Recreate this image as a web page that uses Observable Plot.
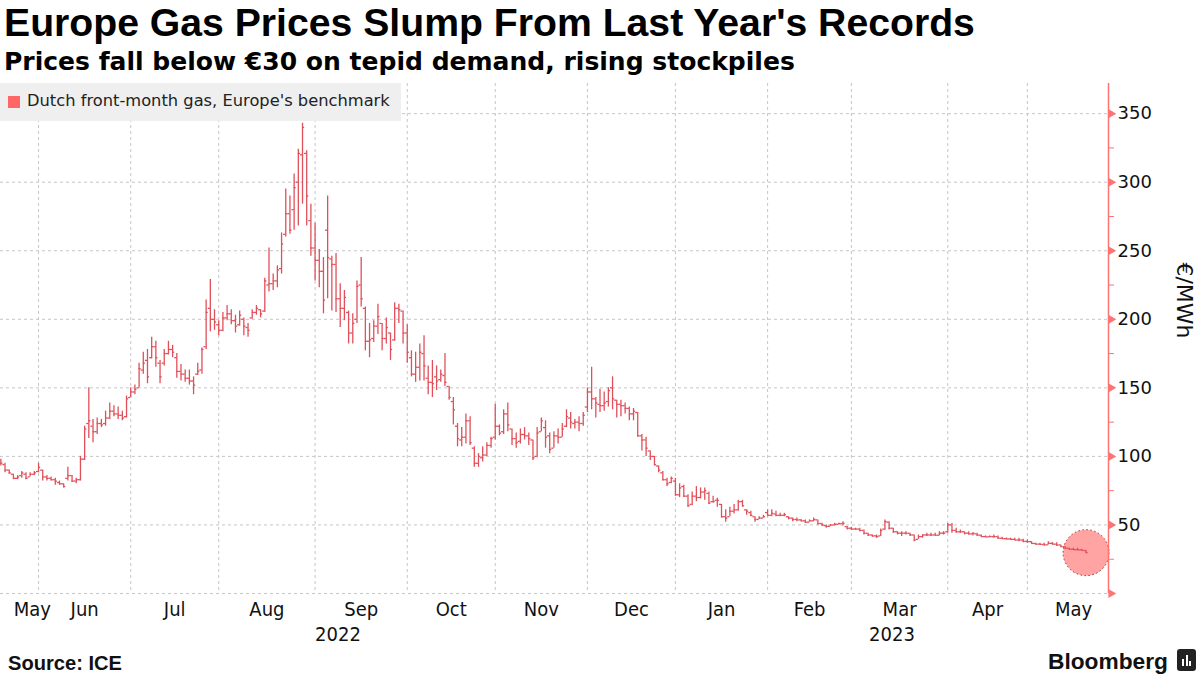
<!DOCTYPE html>
<html>
<head>
<meta charset="utf-8">
<script src="https://cdn.jsdelivr.net/npm/d3@7"></script>
<script src="https://cdn.jsdelivr.net/npm/@observablehq/plot@0.6"></script>
<style>
  html, body { margin: 0; padding: 0; background: #fff; }
  #wrap { position: relative; width: 1200px; height: 675px; overflow: hidden; background: #fff; }
  #chart { position: absolute; left: 0; top: 0; }
  .t { position: absolute; white-space: nowrap; line-height: 1; color: #000; }
  #title { left: 4px; top: 3px; font-family: "Liberation Sans", Arial, sans-serif; font-weight: bold; font-size: 39px; }
  #subtitle { left: 4px; top: 49px; font-family: "DejaVu Sans", sans-serif; font-weight: bold; font-size: 21px; }
  #legend { position: absolute; left: 0; top: 83px; width: 401px; height: 38px; background: #efefef; }
  #legend .sw { position: absolute; left: 8px; top: 13px; width: 12px; height: 12px; background: #ff6666; }
  #legend .lb { position: absolute; left: 27px; top: 10px; font-family: "DejaVu Sans", sans-serif; font-size: 16.3px; color: #222; white-space: nowrap; line-height: 1; }
  #source { left: 8px; top: 653px; font-family: "Liberation Sans", Arial, sans-serif; font-weight: bold; font-size: 19px; color: #111; }
  #brand { left: 1048px; top: 650px; font-family: "Liberation Sans", Arial, sans-serif; font-weight: bold; font-size: 22px; color: #111; }
  #logo { position: absolute; left: 1177px; top: 649px; width: 19px; height: 22px; background: #222; border-radius: 3px; }
  #logo i { position: absolute; bottom: 5px; width: 2px; background: #fff; }
</style>
</head>
<body>
<div id="wrap">
  <div id="chart"></div>
  <div id="legend"><div class="sw"></div><div class="lb" id="legendText"></div></div>
  <div class="t" id="title"></div>
  <div class="t" id="subtitle"></div>
  <div class="t" id="source"></div>
  <div class="t" id="brand"></div>
  <div id="logo"><i style="left:5px;height:7px"></i><i style="left:8.5px;height:11px"></i><i style="left:12px;height:5px"></i></div>
</div>
<script>
// ---------------- data (Dutch TTF front-month, €/MWh, daily OHLC) ----------------
const titleText = "Europe Gas Prices Slump From Last Year's Records";
const subtitleText = "Prices fall below €30 on tepid demand, rising stockpiles";
const seriesName = "Dutch front-month gas, Europe's benchmark";
const sourceText = "Source: ICE";
const unitLabel = "€/MWh";

const firstTradingDay = "2022-05-19";
const holidays = ["2022-12-26", "2023-04-07"];

const opens = [
  96,94,90,87,84,86,87,85,87,
  89,90,85,84,83,81,80,84,86,82,83,98,124,122,118,124,124,128,133,131,130,129,
  143,147,150,163,170,172,180,168,168,175,178,172,162,160,157,155,160,163,180,208,200,
  196,192,201,204,199,196,200,194,201,205,207,206,225,226,228,237,262,277,280,300,320,321,272,
  252,243,235,265,244,240,215,208,205,190,200,225,208,184,186,195,197,186,190,185,208,206,
  190,172,160,165,175,157,154,158,156,159,151,140,122,112,114,126,106,95,99,101,108,
  114,122,118,131,120,113,111,116,115,112,100,118,121,115,106,115,114,122,128,124,125,124,
  136,147,142,138,137,140,150,141,138,137,135,131,132,115,112,104,100,93,88,83,81,
  82,72,78,71,65,71,70,74,73,67,68,65,56,56,60,61,67,61,59,56,54,55,
  59,57,58,57,57,56,55,54,53.7,53,52,53,53.7,51,49.5,49,50,50.5,51,48.8,
  47.6,47,47,46,43.9,42.7,42,42,47,52,47.6,45,44,44,43.9,42.7,39.5,41.5,42.7,42.7,42.7,42.5,44,
  45,50,46,45,45,44,43.5,43.5,42.5,41.5,41.3,41.5,41.5,40.3,40,39.8,39.5,39,39,
  38,37.8,36.5,36,35.8,35.5,36.6,36,35.4,34.2,33,32.3,32,31.8,31.3
];
const highs = [
  98,95,90,87,86,89,88,88,89,
  95,90,86,85,84,82,80,92,86,84,100,122,150,127,128,127,133,139,137,136,133,144,
  150,152,168,176,178,187,184,170,178,184,181,175,167,163,163,158,168,179,214,229,207,
  199,205,210,207,203,206,201,197,207,210,207,230,252,233,239,263,295,290,306,324,343,323,284,
  270,251,245,290,246,248,226,221,206,204,228,245,209,197,199,211,197,201,190,212,211,206,
  196,177,176,182,188,166,170,166,163,175,151,143,124,121,131,129,107,102,107,110,114,
  138,123,134,139,120,117,120,121,117,112,121,128,126,117,118,120,124,134,132,127,129,132,
  150,165,143,149,147,150,158,141,141,139,136,135,132,116,114,104,100,93,89,84,85,
  84,80,79,72,74,78,77,77,74,71,69.5,65,61,63,65,68,68,61,60,56,56,57,
  61,61,60,58.5,58.5,56,55,55,54,53.7,53.7,55,53.7,51.2,50,50,51.2,51.2,52.4,48.8,
  48.3,47.6,47.6,46.3,43.9,42.7,42.7,47,53.6,52.4,47.6,45.1,45.1,45.1,43.9,42.7,42.7,42.7,43.9,43.9,43.9,45.1,45.1,
  51,51,47.6,46.4,45,45,44.4,43.9,42.7,42,42,42.7,42,41,40.5,40.3,40.3,40.3,39.5,
  39.1,37.8,36.6,36.6,36.6,37.8,37.1,37.1,35.4,34.2,33,33,33,32.3,31.3
];
const lows = [
  93,88,87,83,83,84,83,85,86,
  88,82,82,82,79,79,77,82,81,80,82,97,113,110,116,121,122,127,129,127,126,128,
  143,145,150,160,153,171,165,153,166,174,172,157,155,154,152,145,159,160,178,191,192,
  188,191,199,196,190,195,188,187,200,203,201,205,220,221,223,233,260,262,265,268,284,268,246,
  228,223,204,215,206,205,194,199,182,182,197,209,177,172,183,189,177,182,170,184,197,182,
  168,158,154,155,155,145,143,148,154,151,141,123,107,107,109,108,92,92,96,100,106,
  112,115,116,118,108,106,109,112,108,97,99,118,106,102,106,109,114,121,120,120,118,122,
  132,134,128,132,133,136,134,128,129,131,126,126,114,104,100,97,93,88,82,78,80,
  71,70,70,63,64,67,69,68,65,66,63,55,52,56,58,60,63,57,56,52,54,55,
  56,56,56,56,56,53.7,52.4,52.4,52.4,51.2,52,52.4,50,48.8,47.6,48.8,49.3,50,49.3,46.3,
  45.9,46.3,45.1,42.7,41.5,41,40.2,41.5,46,46.4,44,42.7,41.5,42.7,41.5,37.8,39.5,40.3,41.5,41.5,42,42,42.7,
  44,44,44,44,42.7,42.7,42,41.5,41,41,41,40.3,39.5,39.5,39.3,39,38.6,37.8,37.1,
  36.6,35.9,35.4,35.4,34.7,35.4,35.4,34.2,33.7,32.3,31.8,31.8,31.3,31.3,29.3
];
const closes = [
  95,90,88,84,85,88,84,87,88,
  92,85,84,83,82,80,78,86,82,83,98,120,126,118,124,123,128,133,131,130,128,142,
  147,149,164,168,158,180,172,158,175,178,176,162,160,157,155,152,162,178,205,200,198,
  192,201,204,199,195,203,195,192,205,208,204,228,226,228,236,255,277,265,296,321,340,290,252,
  243,235,214,245,240,215,208,216,190,197,224,215,184,185,195,202,186,194,178,208,207,190,
  176,160,165,176,166,154,153,155,160,154,143,134,113,114,126,110,95,100,101,108,113,
  122,117,131,123,113,110,116,115,113,99,117,126,114,105,115,114,120,129,125,125,124,130,
  147,142,139,137,139,148,142,138,137,135,131,133,115,112,106,100,94,90,83,80,84,
  72,77,71,64,71,70,74,75,66,67,68,56,55,60,61,67,64,60,57,54,55,56,
  57,58.5,57,57,57.5,55,54,53.7,53,52,53,54,51,50,49,50,50.5,51,51.2,47.6,
  47,47,46,44,42.7,42,41.5,46,52.4,47.6,45,44,44,44,42.7,39,41.5,42.7,42.7,42.7,42.5,44,44,
  50,46,45,45,44,43.5,43.9,42.7,41.5,41.3,41.5,41.5,40.3,40,39.8,39.5,39,39,38,
  37.8,36.5,36,35.8,35.5,36.6,36,35.4,34.2,33,32.3,32,31.8,31.5,29.8
];

const monthNames = ["May","Jun","Jul","Aug","Sep","Oct","Nov","Dec","Jan","Feb","Mar","Apr","May"];
const yearNames = ["2022","2023"];
const yTicks = [0,50,100,150,200,250,300,350];
const yMinorTicks = [25,75,125,175,225,275,325];

// ---------------- build trading-day table ----------------
const dates = [];
{
  const d = new Date(firstTradingDay + "T00:00:00Z");
  while (dates.length < closes.length) {
    const dow = d.getUTCDay();
    const s = d.toISOString().slice(0, 10);
    if (dow !== 0 && dow !== 6 && !holidays.includes(s)) dates.push(new Date(d));
    d.setUTCDate(d.getUTCDate() + 1);
  }
}
const data = dates.map((dt, i) => ({i, date: dt, open: opens[i], high: highs[i], low: lows[i], close: closes[i]}));

const X0 = -0.08, X1 = 264.36;
const monthStarts = [];
data.forEach((d, i) => { if (i > 0 && d.date.getUTCMonth() !== data[i - 1].date.getUTCMonth()) monthStarts.push(i); });
const segStarts = [0, ...monthStarts];
const monthLabels = segStarts.map((s, k) => {
  let e = k + 1 < segStarts.length ? segStarts[k + 1] : s + 22;
  let pos = (s + e) / 2;
  if (k === 0) pos = Math.max(pos, 7.5);
  return {label: monthNames[k], pos};
});
const yearStart = data.findIndex(d => d.date.getUTCFullYear() === 2023);
const yearLabels = [
  {label: yearNames[0], pos: (X0 + yearStart) / 2},
  {label: yearNames[1], pos: (yearStart + X1) / 2}
];
const last = data[data.length - 1];

const barColor = "#e0505a";
const axisRed = "#ff7373";
const gridColor = "#c6c6c6";

const chart = Plot.plot({
  width: 1200,
  height: 675,
  marginTop: 83,
  marginBottom: 82,
  marginLeft: 0,
  marginRight: 92,
  style: {background: "transparent", fontFamily: "DejaVu Sans, sans-serif", overflow: "visible"},
  x: {type: "linear", domain: [X0, X1], axis: null},
  y: {type: "linear", domain: [0, 372]},
  marks: [
    Plot.ruleY(yTicks, {stroke: gridColor, strokeDasharray: "3,3", strokeWidth: 1}),
    Plot.ruleX(monthStarts, {stroke: gridColor, strokeDasharray: "3,3", strokeWidth: 1}),
    Plot.dot([last], {x: "i", y: "close", r: 23, fill: "#ff8c8c", fillOpacity: 0.8, stroke: "#a82a2a", strokeDasharray: "1.5,2.5", strokeWidth: 1}),
    Plot.ruleX(data, {x: "i", y1: "low", y2: "high", stroke: barColor, strokeWidth: 1.3}),
    Plot.ruleY(data, {y: "open", x1: d => d.i - 0.5, x2: "i", stroke: barColor, strokeWidth: 1.3}),
    Plot.ruleY(data, {y: "close", x1: "i", x2: d => d.i + 0.5, stroke: barColor, strokeWidth: 1.3}),
    Plot.ruleX([X1], {stroke: axisRed, strokeWidth: 1.5}),
    Plot.axisY(yMinorTicks, {anchor: "right", tickSize: 5, stroke: axisRed, tickFormat: () => "", label: null}),
    Plot.dot(yTicks, {x: () => X1, y: d => d, symbol: "triangle", rotate: 90, r: 3.4, fill: axisRed, stroke: "none", dx: 2.5}),
    Plot.text(yTicks.filter(t => t > 0), {x: () => X1, y: d => d, text: d => String(d), dx: 9, textAnchor: "start", fontSize: 18, fill: "#111", fontFamily: "DejaVu Sans, sans-serif"}),
    Plot.text([unitLabel], {frameAnchor: "right", dx: 76, rotate: 90, fontSize: 22, fill: "#111", fontFamily: "DejaVu Sans, sans-serif"}),
    Plot.text(monthLabels, {x: "pos", y: () => 0, dy: 16, text: "label", fontSize: 20, fill: "#111", fontFamily: "DejaVu Sans Condensed, DejaVu Sans, sans-serif"}),
    Plot.text(yearLabels, {x: "pos", y: () => 0, dy: 41, text: "label", fontSize: 20, fill: "#111", fontFamily: "DejaVu Sans Condensed, DejaVu Sans, sans-serif"})
  ]
});
document.getElementById("chart").appendChild(chart);

// ---------------- texts ----------------
function setFit(id, text, targetWidth) {
  const el = document.getElementById(id);
  el.textContent = text;
  const w = el.getBoundingClientRect().width;
  if (w > 0 && targetWidth) {
    const fs = parseFloat(getComputedStyle(el).fontSize);
    el.style.fontSize = (fs * targetWidth / w).toFixed(2) + "px";
  }
}
setFit("title", titleText, 971);
setFit("subtitle", subtitleText, 791);
setFit("source", sourceText, 114);
setFit("brand", "Bloomberg", 120);
document.getElementById("legendText").textContent = seriesName;
</script>
</body>
</html>
